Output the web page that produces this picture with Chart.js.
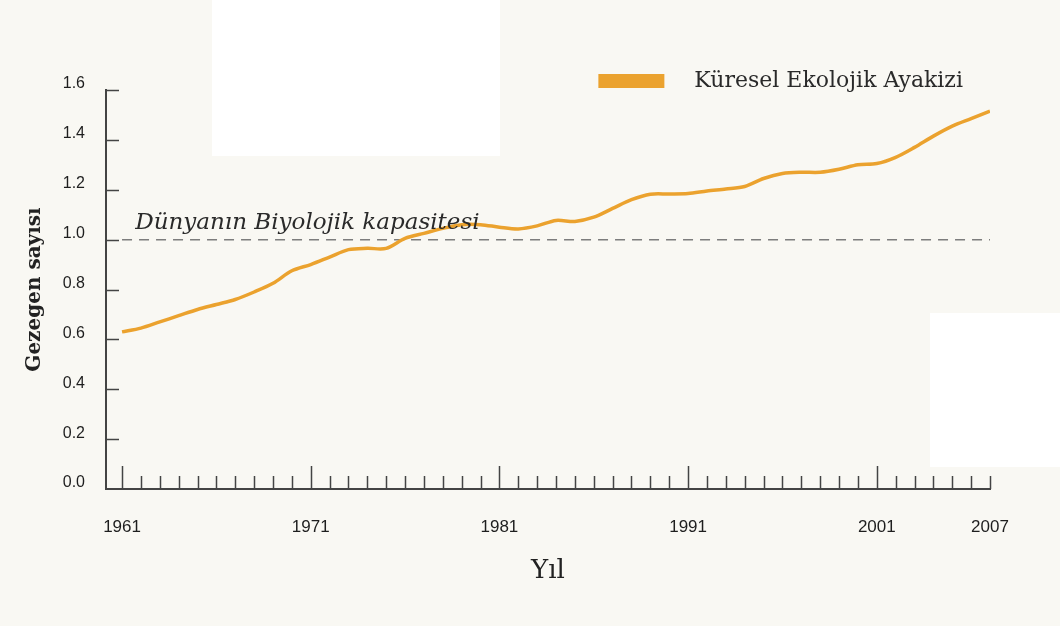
<!DOCTYPE html>
<html lang="tr">
<head>
<meta charset="utf-8">
<title>Küresel Ekolojik Ayakizi</title>
<script src="https://cdn.jsdelivr.net/npm/chart.js@4.4.1/dist/chart.umd.min.js"></script>
<style>
    html, body { margin: 0; padding: 0; background: #f9f8f3; }
    #wrap { position: relative; width: 1060px; height: 626px; overflow: hidden; }
    .patch { position: absolute; background: #ffffff; }
    canvas { position: absolute; left: 0; top: 0; }
</style>
</head>
<body>
<div id="wrap">
    <div class="patch" style="left:212px;top:0;width:288px;height:156px"></div>
    <div class="patch" style="left:930px;top:313px;width:130px;height:154px"></div>
    <canvas id="myChart" width="1060" height="626"></canvas>
</div>
<script>
// yıllar ve değerler
const years = [
    1961, 1962, 1963, 1964, 1965, 1966, 1967, 1968, 1969, 1970,
    1971, 1972, 1973, 1974, 1975, 1976, 1977, 1978, 1979, 1980,
    1981, 1982, 1983, 1984, 1985, 1986, 1987, 1988, 1989, 1990,
    1991, 1992, 1993, 1994, 1995, 1996, 1997, 1998, 1999, 2000,
    2001, 2002, 2003, 2004, 2005, 2006, 2007
];
const footprint = [
    0.63, 0.645, 0.67, 0.695, 0.72, 0.74, 0.76, 0.79, 0.825, 0.875,
    0.90, 0.93, 0.96, 0.965, 0.965, 1.005, 1.025, 1.045, 1.06, 1.06,
    1.05, 1.043, 1.055, 1.077, 1.073, 1.09, 1.125, 1.16, 1.182, 1.183,
    1.185, 1.195, 1.203, 1.213, 1.245, 1.265, 1.27, 1.27, 1.282, 1.30,
    1.305, 1.33, 1.37, 1.415, 1.455, 1.485, 1.515
];
const biocapacityYears = [1961, 2007];
const biocapacity = [1.0, 1.0];

const labelYears = [1961, 1971, 1981, 1991, 2001, 2007];
const majorYears = [1961, 1971, 1981, 1991, 2001];
const yTicks = [0, 0.2, 0.4, 0.6, 0.8, 1.0, 1.2, 1.4, 1.6];

const seriesName = 'Küresel Ekolojik Ayakizi';
const biocapacityName = 'Dünyanın Biyolojik kapasitesi';

const orange = '#eba22e';
const axisColor = '#444444';

// eksen üzerindeki küçük çentikler, açıklama yazısı ve lejant
const extras = {
    id: 'extras',
    afterDraw(chart) {
        const { ctx, chartArea, scales: { x, y } } = chart;
        ctx.save();

        ctx.strokeStyle = axisColor;
        ctx.lineWidth = 1.5;
        ctx.beginPath();
        years.forEach(yr => {
            const px = Math.round(x.getPixelForValue(yr)) + 0.5;
            const len = majorYears.includes(yr) ? 23 : 13;
            ctx.moveTo(px, chartArea.bottom);
            ctx.lineTo(px, chartArea.bottom - len);
        });
        yTicks.forEach(v => {
            if (v === 0) return;
            const py = Math.round(y.getPixelForValue(v)) + 0.5;
            ctx.moveTo(chartArea.left, py);
            ctx.lineTo(chartArea.left + 13, py);
        });
        ctx.stroke();

        // Dünyanın Biyolojik kapasitesi
        ctx.fillStyle = '#2a2a2a';
        ctx.font = 'italic 23px "DejaVu Serif"';
        ctx.textAlign = 'left';
        ctx.textBaseline = 'alphabetic';
        ctx.fillText(biocapacityName, x.getPixelForValue(1961.7), y.getPixelForValue(1.0) - 11);

        // lejant
        const label = chart.data.datasets[0].label;
        ctx.font = '22px "DejaVu Serif"';
        ctx.textBaseline = 'middle';
        const textRight = chartArea.right - 27;
        const textLeft = textRight - ctx.measureText(label).width;
        ctx.fillText(label, textLeft, chartArea.top - 9);
        ctx.fillStyle = orange;
        ctx.fillRect(textLeft - 30 - 66, chartArea.top - 16, 66, 14);

        ctx.restore();
    }
};

const ctx = document.getElementById('myChart').getContext('2d');

new Chart(ctx, {
    type: 'line',
    data: {
        datasets: [
            {
                label: seriesName,
                data: years.map((yr, i) => ({ x: yr, y: footprint[i] })),
                borderColor: orange,
                backgroundColor: orange,
                borderWidth: 3.5,
                tension: 0.3,
                pointRadius: 0,
                fill: false
            },
            {
                label: biocapacityName,
                data: biocapacityYears.map((yr, i) => ({ x: yr, y: biocapacity[i] })),
                borderColor: '#7d7d7d',
                borderWidth: 1.5,
                borderDash: [10, 7],
                pointRadius: 0,
                fill: false
            }
        ]
    },
    options: {
        responsive: false,
        animation: false,
        layout: {
            padding: { left: 15, right: 70, top: 90, bottom: 35 }
        },
        plugins: {
            legend: { display: false },
            tooltip: { enabled: false }
        },
        scales: {
            x: {
                type: 'linear',
                min: 1960.15,
                max: 2007,
                afterBuildTicks: s => { s.ticks = labelYears.map(v => ({ value: v })); },
                afterFit: s => { s.height = 102; },
                grid: { display: false, drawTicks: false },
                border: { display: true, color: axisColor, width: 2 },
                ticks: {
                    padding: 28,
                    autoSkip: false,
                    maxRotation: 0,
                    color: '#1e1e1e',
                    font: { family: '"Liberation Sans"', size: 17 },
                    callback: v => String(v)
                },
                title: {
                    display: true,
                    text: 'Yıl',
                    color: '#222222',
                    font: { family: '"DejaVu Serif"', size: 26 },
                    padding: { top: 18, bottom: 4 }
                }
            },
            y: {
                min: 0,
                max: 1.6,
                afterBuildTicks: s => { s.ticks = yTicks.map(v => ({ value: v })); },
                afterFit: s => { s.width = 91; },
                grid: { display: false, drawTicks: false },
                border: { display: true, color: axisColor, width: 2 },
                ticks: {
                    padding: 21,
                    labelOffset: -6,
                    color: '#1e1e1e',
                    font: { family: '"Liberation Sans"', size: 16 },
                    callback: v => v.toFixed(1)
                },
                title: {
                    display: true,
                    text: 'Gezegen sayısı',
                    color: '#222222',
                    font: { family: '"DejaVu Serif"', size: 20, weight: 'bold' },
                    padding: { top: 8, bottom: 0 }
                }
            }
        }
    },
    plugins: [extras]
});
</script>
</body>
</html>
